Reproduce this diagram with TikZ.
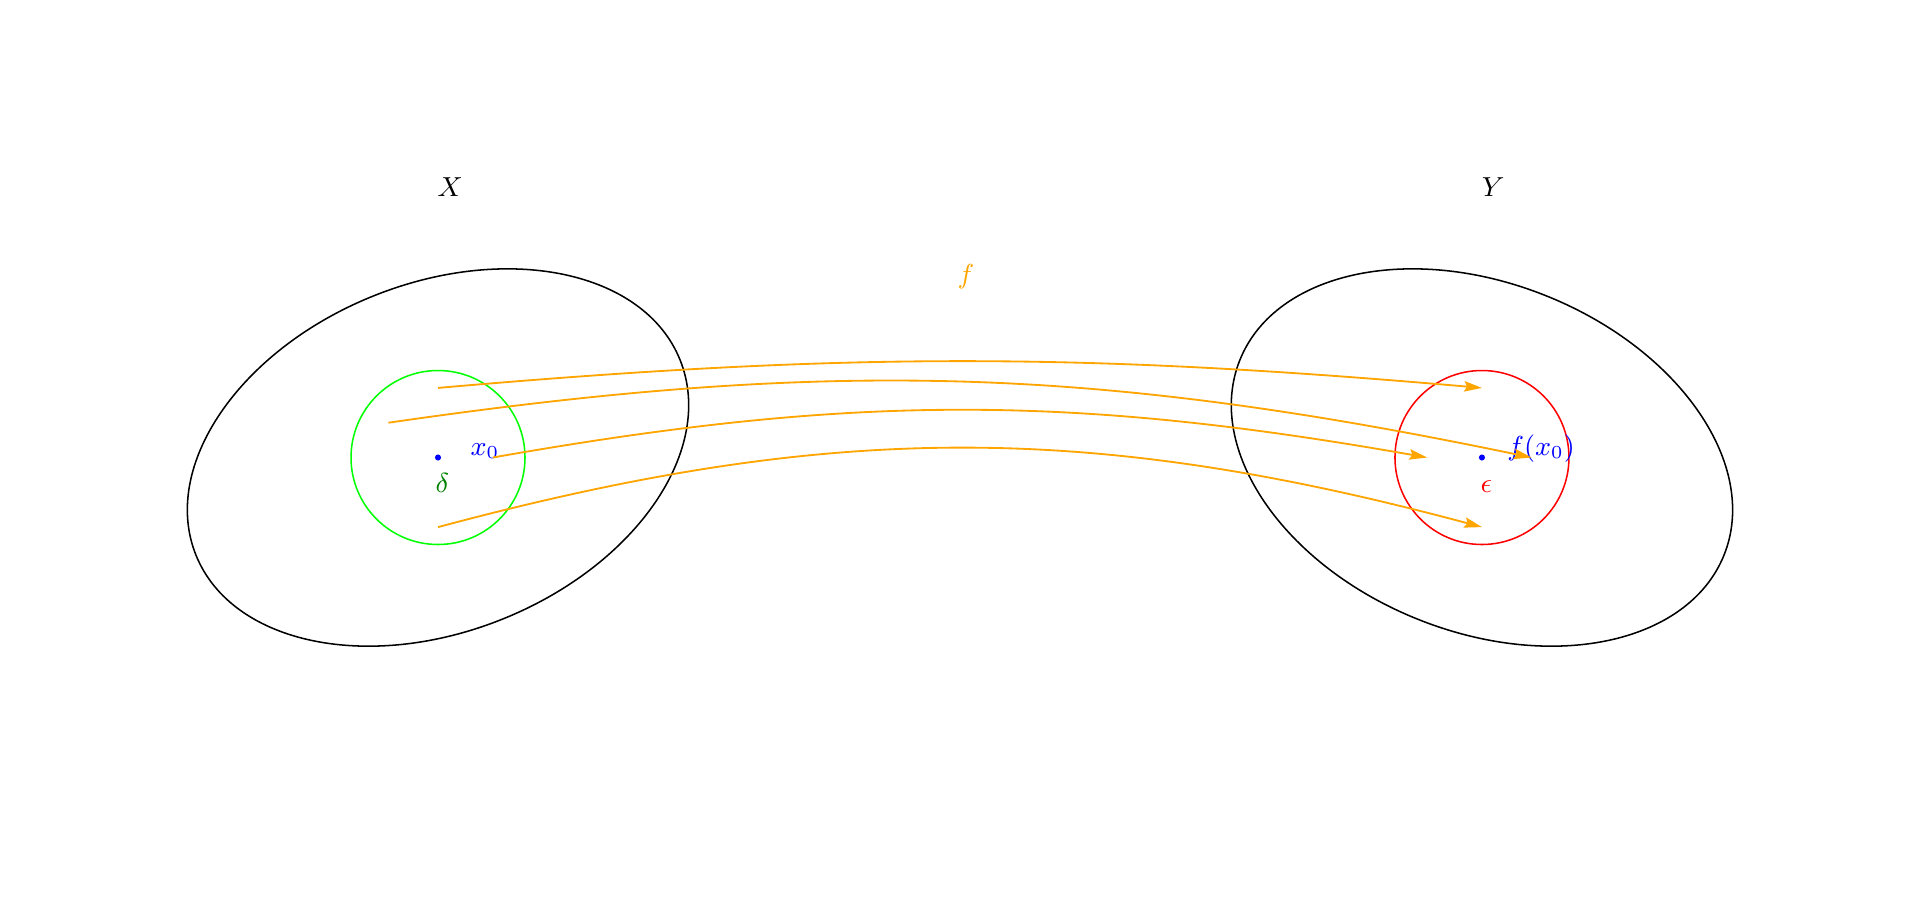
\documentclass[tikz,border=0pt]{standalone}
\usetikzlibrary{arrows.meta}
\definecolor{mapcol}{RGB}{255,165,0}
\definecolor{deltacol}{RGB}{0,128,0}
\begin{document}
\begin{tikzpicture}[>={Stealth[length=5.8pt,width=3.4pt,inset=0.9pt]},font=\small,line width=0.5pt]
        \useasboundingbox (-11.035,-5.259) rectangle (11.035,5.259);
        \coordinate (x0) at (-6,0);
        \coordinate (fx0) at (6,0);
        % the two sets
        \draw [rotate around={22:(x0)}] (x0) ellipse [x radius=3, y radius=2];
        \draw [rotate around={-22:(fx0)}] (fx0) ellipse [x radius=3, y radius=2];
        \node (X) [anchor=base] at (-5.86,3) {$X$};
        \node (Y) [anchor=base] at (6.13,3) {$Y$};
        % neighbourhoods
        \draw [green] (x0) circle [radius=1];
        \draw [red] (fx0) circle [radius=1];
        \fill [blue] (x0) circle [radius=.035];
        \fill [blue] (fx0) circle [radius=.035];
        \node (x0lab) [anchor=base, blue] at (-5.46,0.02) {$x_0$};
        \node (fx0lab) [anchor=base, blue] at (6.68,0.02) {$f(x_0)$};
        \node (dlab) [anchor=base, deltacol] at (-5.95,-0.4) {$\delta$};
        \node (elab) [anchor=base, red] at (6.05,-0.4) {$\epsilon$};
        % the map
        \node (f) [anchor=base, mapcol] at (0.07,2.0) {$f$};
        \coordinate (a1) at (-6,0.8);   \coordinate (b1) at (6,0.8);
        \coordinate (a2) at (-6.57,0.4); \coordinate (b2) at (6.57,0);
        \coordinate (a3) at (-5.37,0);  \coordinate (b3) at (5.37,0);
        \coordinate (a4) at (-6,-0.8);  \coordinate (b4) at (6,-0.8);
        \draw [->, mapcol, semithick] (a1) to [bend left=5] (b1);
        \draw [->, mapcol, semithick] (a2) to [bend left=10] (b2);
        \draw [->, mapcol, semithick] (a3) to [bend left=10] (b3);
        \draw [->, mapcol, semithick] (a4) to [bend left=15] (b4);
\end{tikzpicture}
\end{document}
